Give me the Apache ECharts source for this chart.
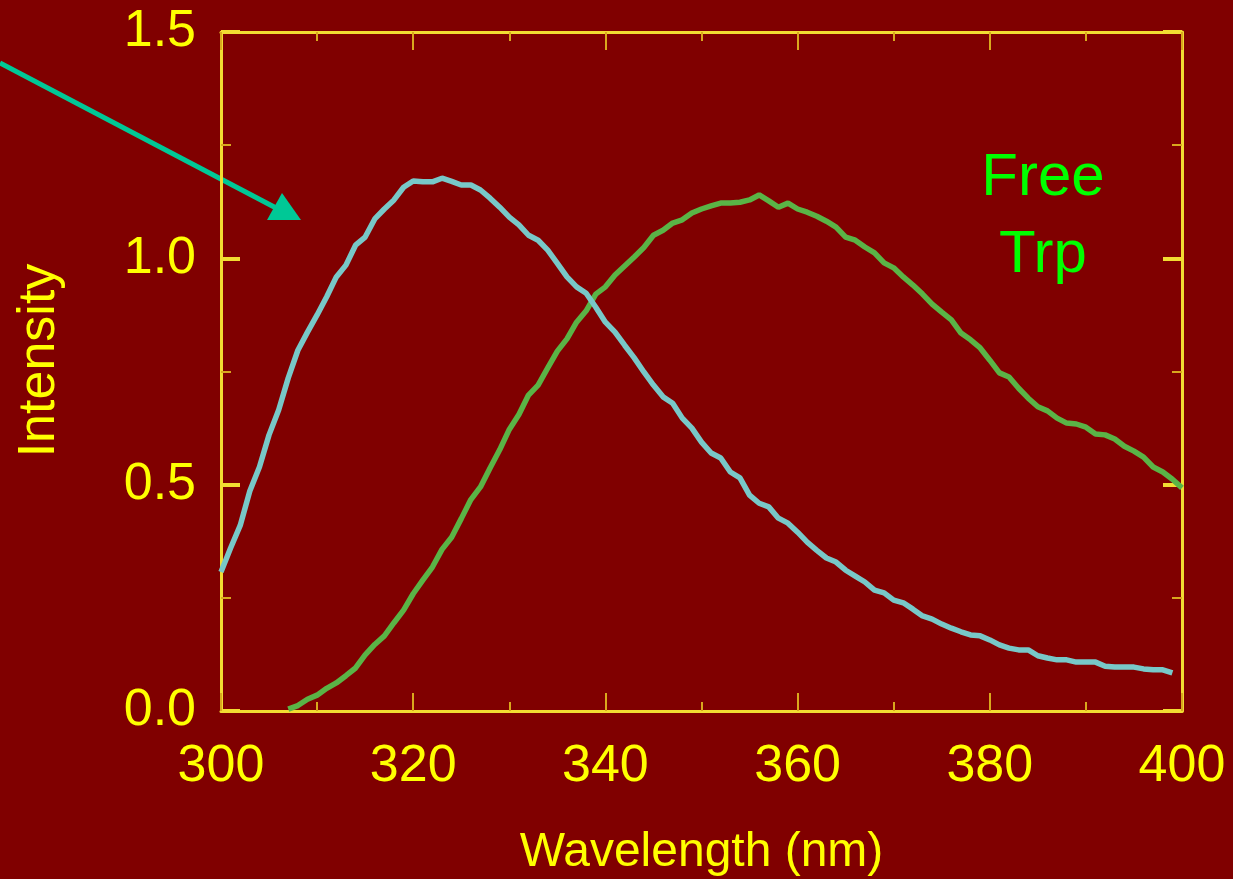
<!DOCTYPE html>
<html>
<head>
<meta charset="utf-8">
<script src="https://cdn.jsdelivr.net/npm/echarts@6/dist/echarts.min.js"></script>
<style>
  html, body { margin: 0; padding: 0; background: #800000; }
  #chart { width: 1233px; height: 879px; }
</style>
</head>
<body>
<div id="chart"></div>
<script>
// bound protein emission (cyan), 300..399 nm
const boundNm = [];
for (let w = 300; w <= 399; w++) boundNm.push(w);
const boundVals = [
  0.307, 0.36, 0.41, 0.486, 0.539, 0.61, 0.665, 0.736, 0.797, 0.837,
  0.875, 0.915, 0.959, 0.985, 1.029, 1.047, 1.087, 1.109, 1.129, 1.157,
  1.171, 1.169, 1.169, 1.177, 1.170, 1.162, 1.162, 1.151, 1.133, 1.113,
  1.091, 1.074, 1.051, 1.04, 1.018, 0.989, 0.959, 0.937, 0.923, 0.892,
  0.859, 0.837, 0.808, 0.780, 0.749, 0.720, 0.694, 0.680, 0.647, 0.625,
  0.594, 0.570, 0.559, 0.528, 0.515, 0.477, 0.459, 0.451, 0.426, 0.415,
  0.395, 0.373, 0.355, 0.338, 0.329, 0.311, 0.298, 0.285, 0.267, 0.261,
  0.245, 0.239, 0.225, 0.210, 0.203, 0.192, 0.183, 0.175, 0.168, 0.166,
  0.157, 0.146, 0.139, 0.135, 0.135, 0.122, 0.117, 0.113, 0.113, 0.108,
  0.108, 0.108, 0.099, 0.097, 0.097, 0.097, 0.093, 0.091, 0.091, 0.084
];

// free Trp emission (green), 307..400 nm
const freeNm = [];
for (let w = 307; w <= 400; w++) freeNm.push(w);
const freeVals = [
  0.004, 0.012, 0.026, 0.035, 0.050, 0.062, 0.078, 0.095, 0.124, 0.147,
  0.166, 0.195, 0.223, 0.259, 0.289, 0.318, 0.357, 0.384, 0.425, 0.467,
  0.495, 0.537, 0.577, 0.622, 0.655, 0.698, 0.720, 0.758, 0.795, 0.822,
  0.859, 0.884, 0.921, 0.937, 0.963, 0.983, 1.003, 1.024, 1.051, 1.062,
  1.078, 1.085, 1.100, 1.109, 1.116, 1.122, 1.122, 1.124, 1.129, 1.140,
  1.127, 1.113, 1.122, 1.109, 1.102, 1.093, 1.082, 1.069, 1.047, 1.040,
  1.025, 1.012, 0.990, 0.979, 0.959, 0.941, 0.921, 0.899, 0.881, 0.864,
  0.835, 0.820, 0.802, 0.775, 0.747, 0.738, 0.713, 0.691, 0.672, 0.663,
  0.647, 0.636, 0.634, 0.627, 0.612, 0.610, 0.601, 0.585, 0.574, 0.561,
  0.539, 0.528, 0.512, 0.493
];

const xTicks = [300, 320, 340, 360, 380, 400];
const yTicks = [0.0, 0.5, 1.0, 1.5];

const FONT = 'Liberation Sans, Arial, sans-serif';
const AXIS_COLOR = '#f2dc32';
const MINOR_COLOR = '#d9a81e';

function pairs(xs, ys) {
  return xs.map((x, i) => [x, ys[i]]);
}

const myChart = echarts.init(document.getElementById('chart'));

// shared tick styling for the frame
function xAxisBase(pos, labels) {
  return {
    type: 'value',
    position: pos,
    min: xTicks[0],
    max: xTicks[xTicks.length - 1],
    interval: 20,
    axisLine: { show: true, onZero: false, lineStyle: { color: AXIS_COLOR, width: 3 } },
    axisTick: { show: true, inside: true, length: 18, lineStyle: { color: MINOR_COLOR, width: 2 } },
    minorTick: { show: true, splitNumber: 2, length: 9, lineStyle: { color: MINOR_COLOR, width: 2 } },
    splitLine: { show: false },
    axisLabel: labels ? {
      show: true, color: '#ffff00', fontSize: 52, fontFamily: FONT, margin: 30,
      formatter: v => String(v)
    } : { show: false }
  };
}

function yAxisBase(pos, labels) {
  return {
    type: 'value',
    position: pos,
    min: yTicks[0],
    max: yTicks[yTicks.length - 1],
    interval: 0.5,
    axisLine: { show: true, onZero: false, lineStyle: { color: AXIS_COLOR, width: 3 } },
    axisTick: { show: true, inside: true, length: 19, lineStyle: { color: AXIS_COLOR, width: 4 } },
    minorTick: { show: true, splitNumber: 2, length: 10, lineStyle: { color: MINOR_COLOR, width: 2 } },
    splitLine: { show: false },
    axisLabel: labels ? {
      show: true, color: '#ffff00', fontSize: 52, fontFamily: FONT, margin: 25,
      formatter: v => v.toFixed(1)
    } : { show: false }
  };
}

const xMain = xAxisBase('bottom', true);
xMain.name = 'Wavelength (nm)';
xMain.nameLocation = 'middle';
xMain.nameGap = 118;
xMain.nameTextStyle = { color: '#ffff00', fontSize: 48, fontFamily: FONT };

const yMain = yAxisBase('left', true);
yMain.name = 'Intensity';
yMain.nameLocation = 'middle';
yMain.nameGap = 155;
// nudge the title a little above the plot centre, as in the original
yMain.nameTextStyle = { color: '#ffff00', fontSize: 52, fontFamily: FONT, padding: [0, 0, 0, 22] };

const option = {
  backgroundColor: '#800000',
  animation: false,
  grid: {
    left: 221, right: 51, top: 32, bottom: 168,
    containLabel: false,
    outerBoundsMode: 'none'   // keep the plot box fixed, v6 would shrink it otherwise
  },
  xAxis: [xMain, xAxisBase('top', false)],
  yAxis: [yMain, yAxisBase('right', false)],
  series: [
    {
      name: 'Free Trp',
      type: 'line',
      data: pairs(freeNm, freeVals),
      showSymbol: false,
      symbol: 'none',
      lineStyle: { color: '#5ab446', width: 5.5 },
      itemStyle: { color: '#5ab446' }
    },
    {
      name: 'Bound',
      type: 'line',
      data: pairs(boundNm, boundVals),
      showSymbol: false,
      symbol: 'none',
      lineStyle: { color: '#78c8c8', width: 5.5 },
      itemStyle: { color: '#78c8c8' }
    }
  ],
  graphic: [
    {
      type: 'text',
      style: {
        text: 'Free\nTrp',
        x: 1043, y: 140,
        align: 'center',
        verticalAlign: 'top',
        fill: '#00ff00',
        font: '60px ' + FONT,
        lineHeight: 77
      }
    },
    // pointer arrow from the left edge
    {
      type: 'line',
      shape: { x1: 0, y1: 63, x2: 278, y2: 209 },
      style: { stroke: '#00c896', lineWidth: 5 }
    },
    {
      type: 'polygon',
      shape: { points: [[282, 193], [267, 220], [301, 220]] },
      style: { fill: '#00c896' }
    }
  ]
};

myChart.setOption(option);
</script>
</body>
</html>
